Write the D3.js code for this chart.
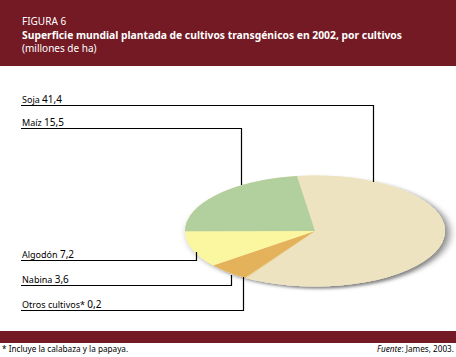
<!DOCTYPE html>
<html><head><meta charset="utf-8">
<script src="https://cdn.jsdelivr.net/npm/d3@7"></script>
<style>body{margin:0;background:#fff}svg{display:block}text{font-family:"Noto Sans",sans-serif}</style>
</head><body>
<script>
const categories = ["Soja", "Otros cultivos*", "Nabina", "Algodón", "Maíz"];
const values = [41.4, 0.2, 3.6, 7.2, 15.5];
const valueLabels = ["41,4", "0,2", "3,6", "7,2", "15,5"];
const colors = ["#EEE3C0", "#E9D9A6", "#E3B25A", "#FBF6A0", "#B2D09E"];

const W = 456, H = 357;
const svg = d3.select("body").append("svg").attr("width", W).attr("height", H);
const dark = "#731A24";

svg.append("rect").attr("x",0).attr("y",0).attr("width",W).attr("height",66).attr("fill",dark);
svg.append("rect").attr("x",0).attr("y",331).attr("width",W).attr("height",12).attr("fill",dark);

svg.append("text").attr("x",22).attr("y",25).attr("fill","#fff").attr("font-size",10).text("FIGURA 6");
svg.append("text").attr("x",22).attr("y",38.5).attr("fill","#fff").attr("font-size",10).attr("font-weight","bold")
  .attr("textLength",380).attr("lengthAdjust","spacingAndGlyphs")
  .text("Superficie mundial plantada de cultivos transgénicos en 2002, por cultivos");
svg.append("text").attr("x",22).attr("y",51.5).attr("fill","#fff").attr("font-size",10).text("(millones de ha)");

// pie
const cx = 315, cy = 231, rx = 130, ry = 55.5;
const defs = svg.append("defs");
const f = defs.append("filter").attr("id","sh").attr("x","-20%").attr("y","-30%").attr("width","150%").attr("height","170%");
f.append("feDropShadow").attr("dx",4).attr("dy",5).attr("stdDeviation",4).attr("flood-color","#000").attr("flood-opacity",0.5);

const deg = Math.PI/180;
const pie = d3.pie().sort(null).value(d=>d).startAngle(-8*deg).endAngle(352*deg);
const arcs = pie(values);
const arc = d3.arc().innerRadius(0).outerRadius(rx);
const g = svg.append("g").attr("transform",`translate(${cx},${cy}) scale(1,${ry/rx})`);
g.append("ellipse").attr("rx",rx).attr("ry",rx).attr("fill","#EEE3C0").attr("filter","url(#sh)");
g.selectAll("path").data(arcs).join("path").attr("d",arc).attr("fill",(d,i)=>colors[i]);

// leader lines and labels
const labelOrder = [0,4,3,2,1];
const lineY = {0:105.5, 4:128.5, 3:260.5, 2:285.5, 1:310.5};
const lineX = {0:373.5, 4:241.5, 3:196.5, 2:231.5, 1:243.5};
const endY = {0:182, 4:185, 3:252, 2:275, 1:277};
const lg = svg.append("g");
labelOrder.forEach(i=>{
  lg.append("path").attr("d",`M21,${lineY[i]}H${lineX[i]}V${endY[i]}`).attr("fill","none").attr("stroke","#000").attr("stroke-width",1.2);
  const t = lg.append("text").attr("x",22).attr("y",lineY[i]-3).attr("font-size",9).attr("fill","#000");
  t.append("tspan").text(categories[i]+" ");
  t.append("tspan").attr("font-size",10).text(valueLabels[i]);
});

svg.append("text").attr("x",2).attr("y",352).attr("font-size",8.2).attr("fill","#000").text("* Incluye la calabaza y la papaya.");
const src = svg.append("text").attr("x",454).attr("y",352).attr("font-size",8.2).attr("fill","#000").attr("text-anchor","end");
src.append("tspan").attr("font-style","italic").text("Fuente");
src.append("tspan").text(": James, 2003.");
</script>
</body></html>
